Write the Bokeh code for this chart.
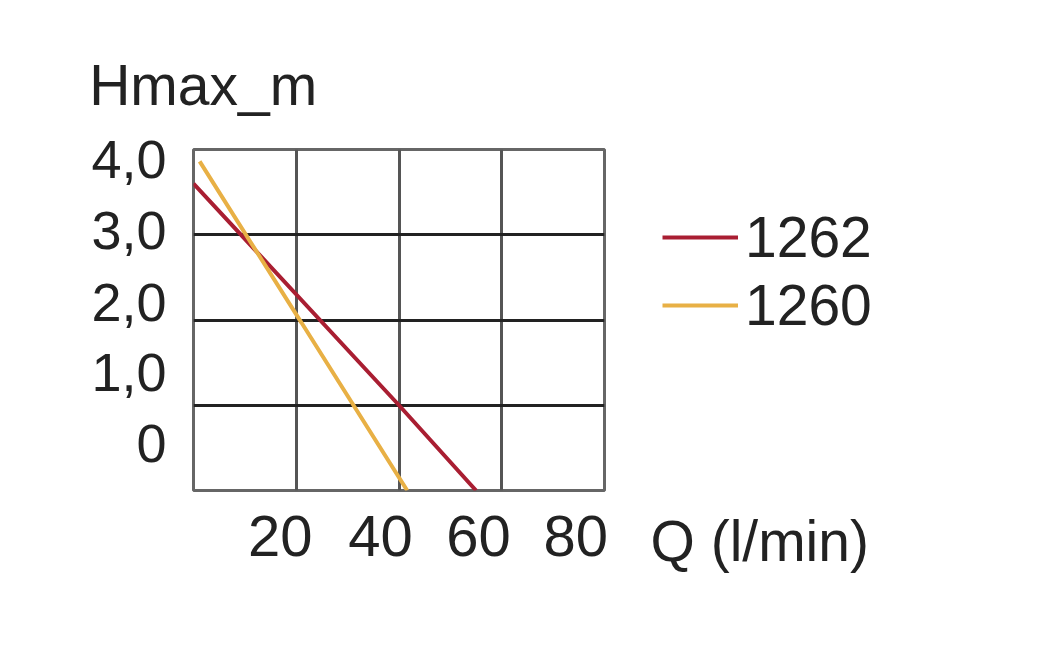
from bokeh.plotting import figure
from bokeh.models import Range1d, FixedTicker, Label, Legend, LegendItem
from bokeh.embed import file_html
from bokeh.resources import INLINE

# ---- data ----
q_1262 = [0, 40, 55]
h_1262 = [3.6, 1.0, 0.0]
q_1260 = [1.2, 21, 41.6]
h_1260 = [3.86, 1.97, 0.0]

series_names = ["1262", "1260"]

x_tick_labels = ["20", "40", "60", "80"]
x_tick_pos = [16.9, 36.4, 55.5, 74.4]
y_tick_labels = ["4,0", "3,0", "2,0", "1,0", "0"]
y_tick_pos = [3.88, 3.05, 2.2, 1.38, 0.55]
x_grid = [20, 40, 60]
y_grid = [1, 2, 3]

x_title = "Q (l/min)"
y_title = "Hmax_m"

FONT = "Liberation Sans"
TXT = "#222222"

p = figure(
    frame_width=411, frame_height=341,
    min_border_left=193, min_border_right=430,
    min_border_top=149, min_border_bottom=150,
    x_range=Range1d(0, 80), y_range=Range1d(0, 4),
    output_backend="svg", toolbar_location=None,
)
p.background_fill_color = "white"
p.border_fill_color = "white"
p.outline_line_color = "#666666"
p.outline_line_width = 3

# grid
p.xgrid.ticker = FixedTicker(ticks=x_grid)
p.ygrid.ticker = FixedTicker(ticks=y_grid)
p.xgrid.grid_line_color = "#555555"
p.xgrid.grid_line_width = 3
p.ygrid.grid_line_color = "#222222"
p.ygrid.grid_line_width = 3

# axes
for ax in (p.xaxis[0], p.yaxis[0]):
    ax.axis_line_color = None
    ax.major_tick_line_color = None
    ax.minor_tick_line_color = None
    ax.major_tick_in = 0
    ax.major_tick_out = 0
    ax.minor_tick_in = 0
    ax.minor_tick_out = 0
    ax.major_label_text_font = FONT
    ax.major_label_text_color = TXT

p.xaxis[0].ticker = FixedTicker(ticks=x_tick_pos)
p.xaxis[0].major_label_overrides = {t: l for t, l in zip(x_tick_pos, x_tick_labels)}
p.xaxis[0].major_label_text_font_size = "58px"
p.xaxis[0].major_label_standoff = 25

p.yaxis[0].ticker = FixedTicker(ticks=y_tick_pos)
p.yaxis[0].major_label_overrides = {t: l for t, l in zip(y_tick_pos, y_tick_labels)}
p.yaxis[0].major_label_text_font_size = "54px"
p.yaxis[0].major_label_standoff = 27

# lines
r1 = p.line(q_1262, h_1262, line_color="#a91e32", line_width=4)
r2 = p.line(q_1260, h_1260, line_color="#e8b045", line_width=4)

legend = Legend(
    items=[LegendItem(label=series_names[0], renderers=[r1]),
           LegendItem(label=series_names[1], renderers=[r2])],
    location=(58, 151), orientation="vertical",
    label_text_font=FONT, label_text_font_size="57px", label_text_color=TXT,
    label_text_baseline="middle",
    glyph_width=76, glyph_height=68, label_height=68,
    spacing=0, padding=0, margin=0, label_standoff=7,
    border_line_color=None, background_fill_alpha=0,
)
p.add_layout(legend, "right")

p.add_layout(Label(x=-20.3, y=4.757, text=y_title, text_font=FONT,
                   text_font_size="57px", text_color=TXT,
                   text_baseline="middle", text_align="left"), "above")
p.add_layout(Label(x=88.95, y=-0.598, text=x_title, text_font=FONT,
                   text_font_size="57px", text_color=TXT,
                   text_baseline="middle", text_align="left"), "below")

open("out.html", "w").write(file_html(p, INLINE))
